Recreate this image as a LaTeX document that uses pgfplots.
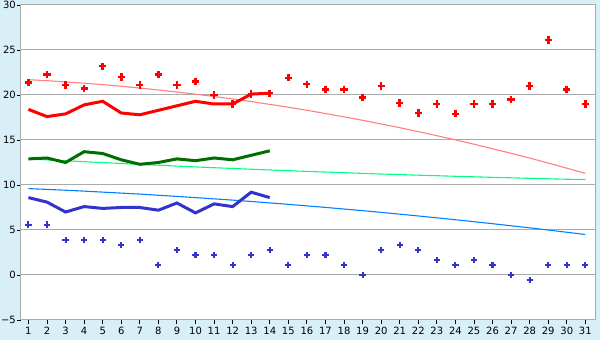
\documentclass[border=0pt]{standalone}
\usepackage{pgfplots}
\pgfplotsset{compat=1.18}
\usepackage{fontspec}
\setmainfont{DejaVu Sans}
\definecolor{bgblue}{RGB}{217,239,247}
\definecolor{gridgray}{RGB}{170,170,170}
\definecolor{trendred}{RGB}{255,128,128}
\definecolor{dkgreen}{RGB}{0,110,0}
\definecolor{trendgreen}{RGB}{0,255,128}
\definecolor{mblue}{RGB}{51,51,204}
\definecolor{trendblue}{RGB}{0,128,255}
\begin{document}
\begin{tikzpicture}
\fill[bgblue] (-21pt,-20pt) rectangle (579pt,320pt);
\begin{axis}[
  at={(0pt,0pt)}, anchor=south west,
  scale only axis, width=574pt, height=315pt,
  xmin=0.6, xmax=31.52, ymin=-5, ymax=30,
  xtick={1,...,31}, ytick={-5,0,5,10,15,20,25,30},
  yticklabels={−5,0,5,10,15,20,25,30},
  ymajorgrids, major grid style={color=gridgray, line width=1pt},
  axis line style={color=gridgray, line width=1pt},
  tick align=outside, xtick pos=bottom, ytick pos=left,
  major tick length=4pt, tick style={black, line width=0.9pt},
  axis background/.style={fill=white},
  tick label style={font=\fontsize{10}{12}\selectfont},
  yticklabel style={inner sep=1pt},
  /pgf/number format/assume math mode=true,
]
% trend lines
\addplot[trendred, line width=1.1pt] coordinates {
(1,21.70)(2,21.59)(3,21.45)(4,21.31)(5,21.15)(6,20.97)(7,20.77)(8,20.56)(9,20.33)(10,20.09)
(11,19.83)(12,19.56)(13,19.27)(14,18.96)(15,18.64)(16,18.30)(17,17.94)(18,17.57)(19,17.19)(20,16.78)
(21,16.37)(22,15.93)(23,15.48)(24,15.02)(25,14.53)(26,14.03)(27,13.52)(28,12.99)(29,12.44)(30,11.87)(31,11.30)};
\addplot[trendgreen, line width=1.1pt] coordinates {
(1,12.90)(2,12.79)(3,12.69)(4,12.59)(5,12.49)(6,12.39)(7,12.29)(8,12.20)(9,12.10)(10,12.01)
(11,11.92)(12,11.84)(13,11.75)(14,11.67)(15,11.59)(16,11.51)(17,11.44)(18,11.37)(19,11.29)(20,11.22)
(21,11.16)(22,11.09)(23,11.03)(24,10.97)(25,10.91)(26,10.85)(27,10.80)(28,10.74)(29,10.69)(30,10.64)(31,10.60)};
\addplot[trendblue, line width=1.1pt] coordinates {
(1,9.60)(2,9.51)(3,9.42)(4,9.32)(5,9.21)(6,9.10)(7,8.99)(8,8.86)(9,8.73)(10,8.60)
(11,8.46)(12,8.32)(13,8.17)(14,8.01)(15,7.85)(16,7.68)(17,7.51)(18,7.33)(19,7.15)(20,6.96)
(21,6.76)(22,6.56)(23,6.35)(24,6.14)(25,5.92)(26,5.70)(27,5.47)(28,5.24)(29,5.00)(30,4.75)(31,4.50)};
% thick lines
\addplot[red, line width=3pt] coordinates {
(1,18.4)(2,17.6)(3,17.9)(4,18.9)(5,19.3)(6,18.0)(7,17.8)(8,18.3)(9,18.8)(10,19.3)(11,19.0)(12,19.0)(13,20.1)(14,20.2)};
\addplot[dkgreen, line width=3pt] coordinates {
(1,12.9)(2,13.0)(3,12.5)(4,13.7)(5,13.5)(6,12.8)(7,12.3)(8,12.5)(9,12.9)(10,12.7)(11,13.0)(12,12.8)(13,13.3)(14,13.8)};
\addplot[mblue, line width=3pt] coordinates {
(1,8.6)(2,8.1)(3,7.0)(4,7.6)(5,7.4)(6,7.5)(7,7.5)(8,7.2)(9,8.0)(10,6.9)(11,7.9)(12,7.6)(13,9.2)(14,8.6)};
% markers
\addplot[only marks, red, mark=+, mark size=3.6pt, line width=2.6pt] coordinates {
(1,21.4)(2,22.3)(3,21.1)(4,20.7)(5,23.2)(6,22.0)(7,21.1)(8,22.3)(9,21.1)(10,21.5)
(11,20.0)(12,19.0)(13,20.1)(14,20.2)(15,21.9)(16,21.2)(17,20.6)(18,20.6)(19,19.7)(20,21.0)
(21,19.1)(22,18.0)(23,19.0)(24,17.9)(25,19.0)(26,19.0)(27,19.5)(28,21.0)(29,26.1)(30,20.6)(31,19.0)};
\addplot[only marks, mblue, mark=+, mark size=3.1pt, line width=2.1pt] coordinates {
(1,5.6)(2,5.6)(3,3.9)(4,3.9)(5,3.9)(6,3.3)(7,3.9)(8,1.1)(9,2.8)(10,2.2)
(11,2.2)(12,1.1)(13,2.2)(14,2.8)(15,1.1)(16,2.2)(17,2.2)(18,1.1)(19,0.0)(20,2.8)
(21,3.3)(22,2.8)(23,1.7)(24,1.1)(25,1.7)(26,1.1)(27,0.0)(28,-0.6)(29,1.1)(30,1.1)(31,1.1)};
\end{axis}
\end{tikzpicture}
\end{document}
